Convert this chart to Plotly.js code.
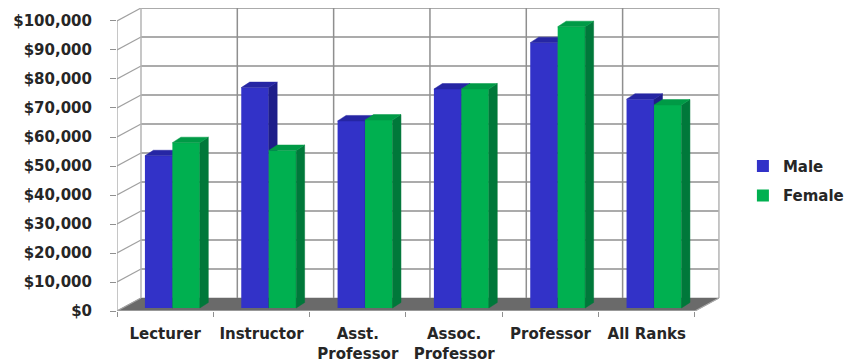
<!DOCTYPE html>
<html>
<head>
<meta charset="utf-8">
<script src="https://cdn.plot.ly/plotly-3.0.1.min.js"></script>
<style>html,body{margin:0;padding:0;background:#fff}#c{width:845px;height:362px}</style>
</head>
<body>
<div id="c"></div>
<script>
const categories = ["Lecturer", "Instructor", "Asst.<br>Professor", "Assoc.<br>Professor", "Professor", "All Ranks"];
const male = [52500, 76000, 64500, 75500, 91500, 72000];
const female = [57000, 54300, 64800, 75500, 97000, 70000];
const yTicks = [0, 10000, 20000, 30000, 40000, 50000, 60000, 70000, 80000, 90000, 100000];
const yTickLabels = ["$0", "$10,000", "$20,000", "$30,000", "$40,000", "$50,000", "$60,000", "$70,000", "$80,000", "$90,000", "$100,000"];

const idx = categories.map((_, i) => i);
const xRange = [-0.5, 5.76];
const yRange = [0, 104480];
const wallDX = 0.249, wallDY = 4480;   // depth of the chart box
const barDX = 0.088, barDY = 1900;     // depth of one bar
const barW = 0.285;
const maleOff = -0.21, femaleOff = 0.075;
const yShift = 1030;                   // bars stand slightly behind the front edge

const FONT = "DejaVu Sans, Verdana, sans-serif";
const TEXT = "#262626";
const gridColor = "#8f8f8f";

function line(xs, ys, color, width) {
  return {type: "scatter", mode: "lines", x: xs, y: ys, line: {color: color, width: width},
          showlegend: false, hoverinfo: "skip", cliponaxis: false};
}
function poly(xs, ys, color, ax) {
  return Object.assign({type: "scatter", mode: "lines", x: xs, y: ys, fill: "toself", fillcolor: color,
          line: {color: color, width: 0.5}, showlegend: false, hoverinfo: "skip", cliponaxis: false}, ax || {});
}

const traces = [];
// floor
traces.push(poly(
  [xRange[0], 5.5, 5.5 + wallDX, xRange[0] + wallDX, xRange[0]],
  [0, 0, wallDY, wallDY, 0], "#6a6a6a"));
// grid on back wall and side wall
yTicks.forEach(v => {
  if (v > 0) traces.push(line([xRange[0] + wallDX, 5.5 + wallDX], [v + wallDY, v + wallDY], gridColor, 1.5));
  traces.push(line([xRange[0], xRange[0] + wallDX], [v, v + wallDY], "#a0a0a0", 1.2));
});
[0, 1, 2, 3, 4, 5, 6].forEach(k => {
  const bx = k - 0.5 + wallDX;
  traces.push(line([bx, bx], [wallDY, 100000 + wallDY], k === 0 || k === 6 ? "#b4b4b4" : gridColor, 1.5));
});
// front edges
traces.push(line([xRange[0], xRange[0]], [0, 100000], "#a0a0a0", 1.2));
traces.push(line([xRange[0], 5.5], [0, 0], "#a8a8a8", 1.5));
traces.push(line([5.5, 5.5 + wallDX], [0, wallDY], "#a8a8a8", 1.2));

function series3d(name, vals, off, front, side, top, xa, ya) {
  const ax = {xaxis: xa, yaxis: ya};
  const sx = [], sy = [], tx = [], ty = [];
  vals.forEach((v, i) => {
    const l = i + off, r = l + barW;
    sx.push(r, r + barDX, r + barDX, r, r, null);
    sy.push(0, barDY, v + barDY, v, 0, null);
    tx.push(l, r, r + barDX, l + barDX, l, null);
    ty.push(v, v, v + barDY, v + barDY, v, null);
  });
  traces.push(poly(sx, sy, side, ax));
  traces.push(poly(tx, ty, top, ax));
  traces.push(Object.assign({type: "bar", name: name, legendgroup: name, x: idx, y: vals, width: barW,
    offset: off, marker: {color: front, line: {width: 0}}, hoverinfo: "name+y"}, ax));
}
series3d("Male", male, maleOff, "#3232c8", "#1e1e8a", "#2626a4", "x2", "y2");
series3d("Female", female, femaleOff, "#00b050", "#00783a", "#009a46", "x3", "y3");

const overlayX = {range: xRange, overlaying: "x", visible: false, fixedrange: true};
const overlayY = {range: [yRange[0] - yShift, yRange[1] - yShift], overlaying: "y", visible: false, fixedrange: true};
const tickFont = {family: FONT, size: 15, color: TEXT, weight: "bold"};
const layout = {
  width: 845, height: 362,
  margin: {l: 117, r: 125, t: 8, b: 51, pad: 0, autoexpand: false},
  paper_bgcolor: "#ffffff", plot_bgcolor: "#ffffff",
  font: {family: FONT, size: 15, color: TEXT},
  barmode: "overlay",
  xaxis: {
    range: xRange, showgrid: false, zeroline: false, showline: false, fixedrange: true,
    automargin: false,
    tickmode: "array", tickvals: idx, ticktext: categories, ticks: "", tickangle: 0,
    tickfont: tickFont, ticklabelstandoff: 12,
    minor: {tick0: -0.5, dtick: 1, ticks: "outside", ticklen: 5, tickcolor: "#909090", tickwidth: 1, showgrid: false}
  },
  yaxis: {
    range: yRange, showgrid: false, zeroline: false, showline: false, fixedrange: true,
    automargin: false,
    tickmode: "array", tickvals: yTicks, ticktext: yTickLabels,
    ticks: "outside", ticklen: 6, tickcolor: "#909090", tickwidth: 1, ticklabelstandoff: 15,
    tickfont: tickFont
  },
  xaxis2: overlayX, yaxis2: overlayY,
  xaxis3: Object.assign({}, overlayX), yaxis3: Object.assign({}, overlayY),
  legend: {x: 1.038, xanchor: "left", y: 0.43, yanchor: "middle", bgcolor: "rgba(0,0,0,0)",
           traceorder: "grouped", tracegroupgap: 7, itemwidth: 30,
           font: {family: FONT, size: 15, color: TEXT, weight: "bold"}}
};
Plotly.newPlot("c", traces, layout, {displayModeBar: false, staticPlot: true});
</script>
</body>
</html>
